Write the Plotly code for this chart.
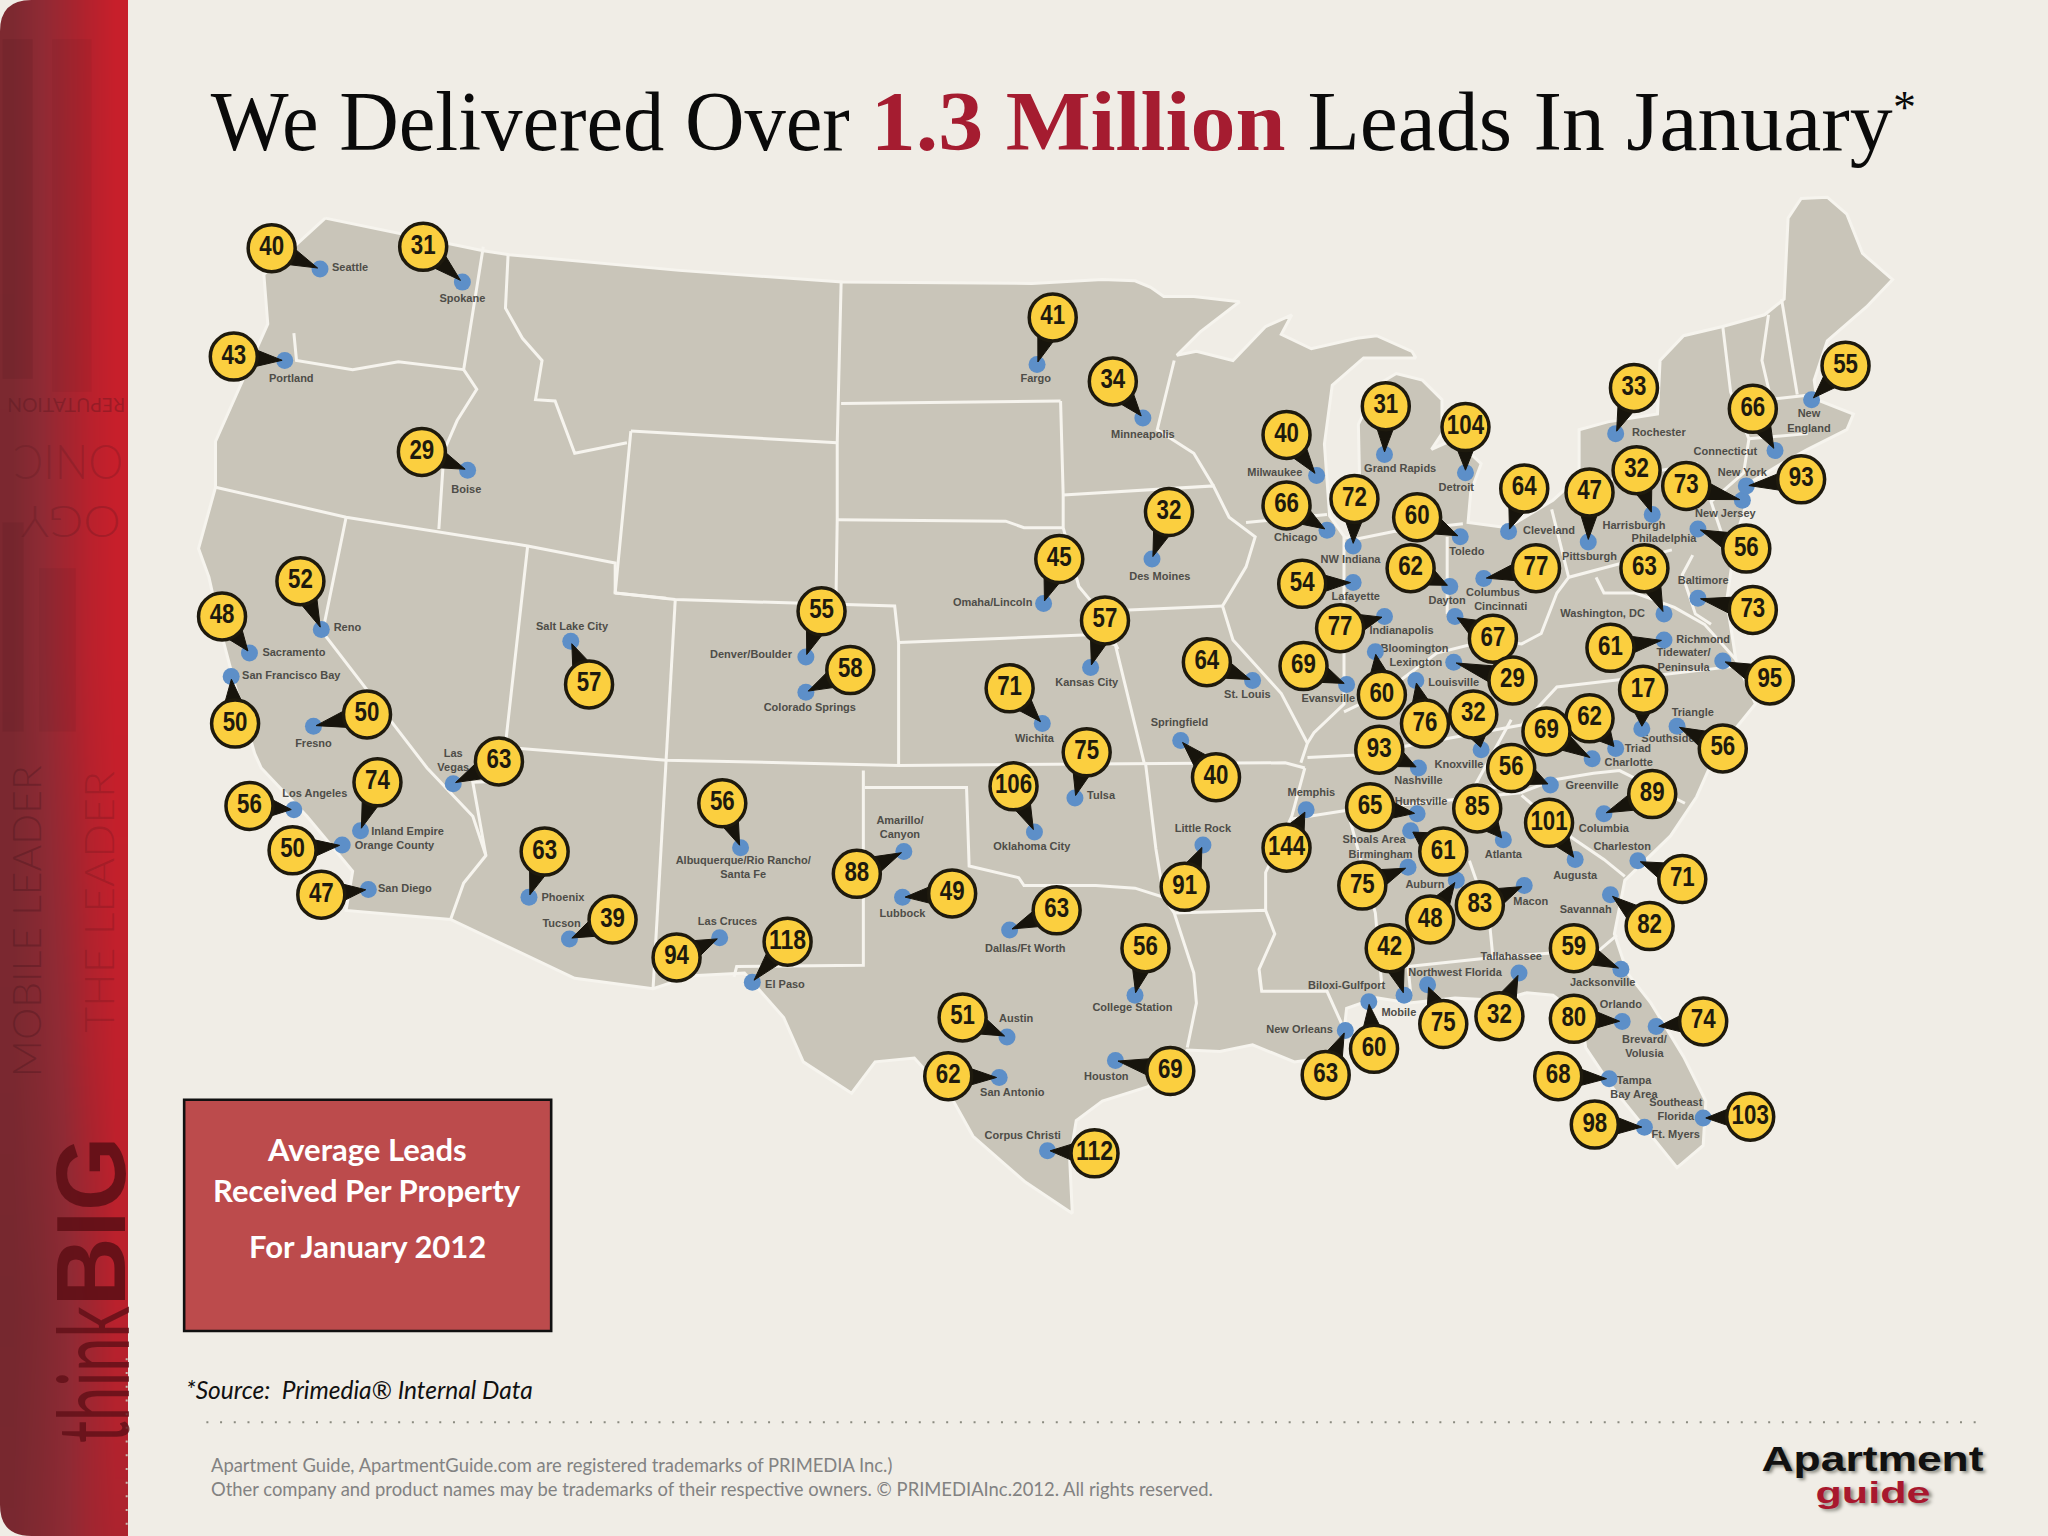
import math
import plotly.graph_objects as go

W, H = 1568, 1176
BG = "#f0ede6"
LAND = "#c9c5b9"
EDGE = "#f6f4ee"

# Lead counts, with bubble centre and city-pin positions
values = [40, 31, 43, 29, 52, 48, 50, 50, 57, 55, 58, 63, 56, 74, 50, 47, 63, 39, 56, 88, 49, 94, 118,
          41, 34, 32, 45, 57, 71, 64, 75, 106, 40, 91, 63, 56, 51, 62, 69, 112, 144,
          40, 66, 31, 104, 72, 60, 64, 47, 33, 32, 73, 66, 93, 55, 54, 62, 77, 63, 56, 73, 77, 67, 69, 61, 95,
          60, 29, 76, 32, 17, 62, 69, 56, 93, 56, 89, 65, 85, 101, 61, 75, 48, 83, 71, 82, 59, 42, 60, 63, 75, 32,
          80, 74, 68, 98, 103]
bubble_x = [208, 324, 179, 323, 230, 170, 180, 281, 451, 629, 651, 382, 191, 289, 224, 246, 417, 469, 553, 656, 729, 518, 603,
            806, 852, 895, 811, 846, 773, 924, 832, 776, 931, 907, 809, 877, 737, 726, 896, 838, 985,
            985, 985, 1061, 1122, 1037, 1085, 1167, 1217, 1251, 1253, 1291, 1342, 1379, 1413, 997, 1080, 1176, 1259, 1337, 1342, 1026, 1143, 998, 1233, 1355,
            1058, 1158, 1091, 1128, 1258, 1217, 1184, 1157, 1056, 1319, 1265, 1049, 1131, 1186, 1105, 1043, 1095, 1133, 1288, 1263, 1205, 1064, 1052, 1015, 1105, 1148,
            1205, 1304, 1193, 1221, 1340]
bubble_y = [190, 189, 273, 346, 445, 472, 554, 547, 524, 468, 513, 583, 617, 599, 651, 685, 652, 704, 615, 669, 684, 733, 721,
            243, 292, 392, 428, 475, 527, 507, 576, 602, 595, 679, 697, 726, 779, 824, 820, 883, 649,
            333, 387, 311, 327, 382, 396, 374, 377, 297, 360, 372, 313, 367, 280, 447, 435, 435, 435, 420, 467, 481, 489, 510, 496, 521,
            532, 521, 554, 547, 528, 550, 560, 588, 574, 573, 608, 618, 619, 630, 652, 678, 704, 693, 673, 709, 726, 726, 803, 823, 784, 778,
            780, 782, 824, 861, 855]
pin_x = [245, 354, 218, 358, 246, 191, 177, 240, 437, 617, 617, 347, 225, 276, 262, 282, 405, 436, 567, 692, 691, 551, 576,
         794, 875, 882, 799, 835, 798, 959, 823, 792, 904, 921, 773, 869, 771, 765, 854, 802, 1000,
         1008, 1016, 1060, 1122, 1036, 1118, 1155, 1216, 1237, 1265, 1334, 1359, 1337, 1387, 1036, 1110, 1136, 1274, 1300, 1300, 1060, 1114, 1031, 1274, 1319,
         1053, 1113, 1084, 1134, 1257, 1237, 1219, 1187, 1086, 1284, 1228, 1085, 1151, 1206, 1080, 1078, 1115, 1167, 1254, 1233, 1241, 1075, 1048, 1030, 1093, 1163,
         1242, 1268, 1232, 1259, 1304]
pin_y = [206, 216, 276, 360, 482, 500, 518, 556, 491, 503, 530, 600, 620, 636, 647, 681, 687, 719, 649, 652, 687, 718, 752,
         279, 320, 428, 462, 511, 554, 521, 611, 637, 567, 647, 712, 762, 794, 825, 812, 881, 620,
         364, 406, 348, 362, 418, 411, 407, 415, 332, 394, 383, 345, 372, 306, 446, 449, 443, 470, 405, 458, 472, 472, 524, 490, 506,
         499, 507, 521, 574, 558, 573, 581, 601, 588, 556, 623, 623, 643, 658, 636, 664, 674, 678, 659, 685, 742, 762, 767, 789, 754, 745,
         782, 786, 826, 863, 856]

# City labels
label_text = ["Seattle", "Spokane", "Portland", "Boise", "Reno", "Sacramento", "San Francisco Bay", "Fresno", "Salt Lake City",
              "Denver/Boulder", "Colorado Springs", "Las<br>Vegas", "Los Angeles", "Inland Empire", "Orange County", "San Diego",
              "Phoenix", "Tucson", "Albuquerque/Rio Rancho/<br>Santa Fe", "Amarillo/<br>Canyon", "Lubbock", "Las Cruces", "El Paso",
              "Fargo", "Minneapolis", "Des Moines", "Omaha/Lincoln", "Kansas City", "Wichita", "St. Louis", "Tulsa", "Oklahoma City",
              "Springfield", "Little Rock", "Dallas/Ft Worth", "College Station", "Austin", "San Antonio", "Houston", "Corpus Christi", "Memphis",
              "Milwaukee", "Chicago", "Grand Rapids", "Detroit", "NW Indiana", "Toledo", "Cleveland", "Pittsburgh", "Rochester", "Harrisburgh",
              "Philadelphia", "New Jersey", "New York", "Connecticut", "New<br>England", "Lafayette", "Dayton", "Columbus", "Cincinnati",
              "Washington, DC", "Baltimore", "Indianapolis", "Bloomington", "Lexington", "Richmond", "Tidewater/<br>Peninsula", "Louisville",
              "Evansville", "Triangle", "Southside", "Triad", "Charlotte", "Knoxville", "Nashville", "Greenville", "Columbia", "Huntsville",
              "Atlanta", "Shoals Area", "Birmingham", "Auburn", "Macon", "Charleston", "Augusta", "Savannah", "Jacksonville", "Tallahassee",
              "Northwest Florida", "Mobile", "Biloxi-Gulfport", "New Orleans", "Orlando", "Brevard/<br>Volusia", "Tampa<br>Bay Area",
              "Ft. Myers", "Southeast<br>Florida"]
label_x = [268, 354, 223, 357, 266, 225, 223, 240, 438, 575, 620, 347, 241, 312, 302, 310, 431, 430, 569, 689, 691, 557, 601,
           793, 875, 888, 760, 832, 792, 955, 843, 790, 903, 921, 785, 867, 778, 775, 847, 783, 1004,
           976, 992, 1072, 1115, 1034, 1123, 1186, 1217, 1270, 1251, 1274, 1321, 1334, 1321, 1385, 1038, 1108, 1143, 1149,
           1227, 1304, 1073, 1083, 1084, 1304, 1289, 1113, 1017, 1296, 1277, 1254, 1247, 1117, 1086, 1219, 1228, 1088,
           1151, 1052, 1057, 1091, 1172, 1242, 1206, 1214, 1227, 1157, 1114, 1071, 1031, 995, 1241, 1259, 1251, 1283, 1283]
label_y = [205, 229, 290, 375, 481, 500, 518, 570, 480, 502, 542, 583, 608, 637, 648, 681, 688, 708, 665, 634, 700, 706, 754,
           290, 333, 442, 462, 523, 566, 532, 610, 649, 554, 635, 727, 772, 780, 837, 825, 870, 607,
           362, 412, 359, 374, 429, 423, 407, 427, 332, 403, 413, 394, 362, 346, 323, 457, 460, 454, 465,
           470, 445, 483, 497, 508, 490, 506, 523, 535, 546, 566, 574, 584, 586, 598, 602, 635, 614,
           655, 643, 655, 678, 691, 649, 671, 697, 753, 733, 745, 776, 755, 789, 770, 802, 833, 869, 850]

# Lower-48 silhouette
outline_x = [249, 370, 390, 520, 645, 790, 844, 869, 881, 891, 914, 949, 919, 901, 916, 944, 969, 989, 981, 1004, 1039, 1054, 1081, 1084,
             1044, 1020, 1014, 1018, 1030, 1038, 1041, 1040, 1054, 1069, 1089, 1104, 1104, 1096, 1114, 1134, 1126, 1124, 1154, 1189, 1199,
             1209, 1209, 1231, 1269, 1271, 1289, 1319, 1351, 1366, 1369, 1379, 1399, 1414, 1426, 1449, 1429, 1399, 1389, 1391, 1419, 1414,
             1384, 1364, 1339, 1336, 1329, 1322, 1329, 1344, 1314, 1299, 1279, 1244, 1236, 1246, 1264, 1289, 1306, 1304, 1284, 1264, 1234,
             1214, 1211, 1189, 1169, 1149, 1114, 1079, 1054, 1031, 1029, 1019, 991, 959, 934, 909, 879, 844, 824, 819, 821, 785, 745, 730,
             700, 670, 652, 615, 600, 570, 530, 500, 440, 345, 265, 270, 235, 200, 195, 180, 170, 160, 152, 165, 165, 205, 202]
outline_y = [167, 192, 195, 207, 216, 217, 214, 215, 220, 227, 227, 231, 254, 272, 269, 276, 250, 241, 256, 267, 259, 257, 269, 274,
             274, 295, 340, 395, 412, 410, 370, 325, 295, 286, 291, 306, 332, 344, 336, 355, 377, 400, 404, 383, 374,
             362, 329, 323, 317, 276, 257, 250, 241, 229, 167, 152, 151, 164, 194, 214, 235, 261, 291, 306, 317, 329,
             344, 355, 370, 389, 411, 460, 505, 539, 576, 610, 640, 674, 715, 745, 768, 809, 843, 877, 894, 869, 832,
             802, 779, 762, 760, 766, 764, 768, 764, 772, 790, 809, 813, 800, 805, 804, 832, 843, 858, 888, 929, 905, 870, 843,
             810, 813, 837, 813, 779, 745, 747, 757, 749, 704, 697, 667, 625, 588, 577, 525, 487, 442, 420, 373, 338, 248, 210]

# State lines
state_lines = [
    [(225, 255), (227, 276), (270, 283), (305, 277), (355, 283)],
    [(370, 189), (355, 283), (365, 298), (350, 322), (340, 345), (336, 405)],
    [(389, 195), (387, 236), (400, 259), (415, 276), (410, 306), (425, 307), (440, 347), (480, 339)],
    [(483, 330), (471, 454), (510, 458)],
    [(483, 330), (641, 339)],
    [(644, 216), (641, 339), (641, 398), (640, 463)],
    [(644, 309), (812, 307)],
    [(641, 398), (770, 399), (784, 404), (814, 404)],
    [(471, 454), (517, 459), (685, 464), (688, 492), (688, 586)],
    [(688, 492), (834, 486), (854, 494), (876, 584)],
    [(517, 459), (510, 582), (500, 757)],
    [(385, 572), (510, 582), (688, 586), (984, 584), (999, 588)],
    [(404, 418), (387, 570), (388, 598), (362, 599), (372, 655), (355, 676), (345, 704)],
    [(265, 396), (247, 484), (327, 588), (362, 625), (372, 655)],
    [(165, 373), (265, 396), (404, 418), (471, 431), (471, 454)],
    [(661, 590), (661, 739), (564, 740), (562, 748)],
    [(662, 603), (740, 603), (742, 663), (780, 672), (784, 678), (839, 678), (869, 680), (891, 687), (899, 699), (914, 745), (916, 768), (909, 802)],
    [(877, 584), (885, 650), (891, 687)],
    [(899, 699), (969, 697), (976, 715), (964, 742), (966, 759), (1016, 759), (1030, 790)],
    [(999, 588), (989, 625), (969, 668), (969, 697)],
    [(1001, 580), (1039, 578), (1165, 555)],
    [(989, 627), (1028, 621), (1164, 607)],
    [(814, 379), (929, 372), (941, 396), (961, 411), (954, 434), (936, 464), (944, 490), (981, 531), (1001, 569), (996, 584)],
    [(812, 307), (814, 379), (814, 404), (826, 449), (841, 467), (856, 497)],
    [(864, 467), (936, 464)],
    [(929, 372), (914, 347), (886, 329), (899, 276)],
    [(954, 400), (1016, 394)],
    [(1029, 411), (1029, 539), (1006, 561), (1001, 569)],
    [(1029, 545), (1060, 530), (1100, 500), (1140, 490), (1165, 493), (1180, 485), (1192, 454), (1201, 442)],
    [(1108, 411), (1108, 470)],
    [(1037, 413), (1067, 407), (1120, 401)],
    [(1188, 390), (1201, 442), (1280, 421)],
    [(1205, 372), (1300, 355)],
    [(1319, 250), (1325, 300), (1339, 336), (1335, 362), (1310, 384), (1322, 420)],
    [(1354, 241), (1349, 276), (1356, 306)],
    [(1364, 229), (1376, 302)],
    [(1354, 306), (1389, 302)],
    [(1339, 336), (1384, 332)],
    [(1222, 442), (1228, 454), (1252, 454), (1282, 465), (1305, 478), (1329, 505)],
    [(1296, 425), (1288, 440), (1298, 470), (1310, 478)],
    [(1165, 555), (1192, 526), (1329, 510)],
    [(1157, 551), (1130, 600), (1164, 607)],
    [(1164, 607), (1190, 597), (1220, 592), (1240, 590), (1290, 615)],
    [(1165, 609), (1203, 641), (1228, 658), (1244, 671)],
    [(1078, 740), (1143, 733), (1225, 727), (1238, 716)],
    [(1125, 659), (1140, 702), (1143, 733)],
    [(1032, 622), (1053, 699), (1058, 755)],
    [(1078, 740), (1080, 760)],
]

# Text content
title_parts = ["We Delivered Over", "1.3 Million", "Leads In January"]
box_lines = ["Average Leads", "Received Per Property", "For January 2012"]
box_line_y = [880, 911, 954]
source_text = "*Source:  Primedia® Internal Data"
footer_lines = ["Apartment Guide, ApartmentGuide.com are registered trademarks of PRIMEDIA Inc.)",
                "Other company and product names may be trademarks of their respective owners. © PRIMEDIAInc.2012. All rights reserved."]
footer_y = [1122, 1140]

# Side band gradient levels
band_x = [9.8, 29.4, 49, 68.6, 88.2]
band_y = [0, 500, 800, 1000, 1176]
band_z = [[0.10, 0.32, 0.55, 0.80, 1.00],
          [0.08, 0.30, 0.58, 0.85, 1.00],
          [0.06, 0.20, 0.40, 0.72, 0.92],
          [0.00, 0.10, 0.28, 0.55, 0.85],
          [0.04, 0.16, 0.32, 0.55, 0.70]]

fig = go.Figure()

fig.add_trace(go.Heatmap(x=band_x, y=band_y, z=band_z, zsmooth="best", showscale=False, hoverinfo="skip",
                         zmin=0, zmax=1,
                         colorscale=[[0, "#76282f"], [0.35, "#8f2a34"], [0.7, "#ac232e"], [1, "#c71f2b"]]))

fig.add_trace(go.Scatter(x=outline_x + outline_x[:1], y=outline_y + outline_y[:1], mode="lines", fill="toself",
                         fillcolor=LAND, line=dict(color=EDGE, width=3), hoverinfo="skip", showlegend=False))

lx, ly = [], []
for seg in state_lines:
    lx += [p[0] for p in seg] + [None]
    ly += [p[1] for p in seg] + [None]
fig.add_trace(go.Scatter(x=lx, y=ly, mode="lines", line=dict(color=EDGE, width=3), hoverinfo="skip", showlegend=False))

fig.add_trace(go.Scatter(x=label_x, y=label_y, mode="text", text=label_text, textposition="middle center",
                         textfont=dict(family="Liberation Sans", size=11, color="#4e4d48", weight=700),
                         hoverinfo="skip", showlegend=False))

R = 19.5
wx, wy = [], []
for bx, by, px, py in zip(bubble_x, bubble_y, pin_x, pin_y):
    d = math.hypot(px - bx, py - by) or 1
    ux, uy = (px - bx) / d, (py - by) / d
    nx, ny = -uy, ux
    cx, cy = bx + ux * R * 0.85, by + uy * R * 0.85
    wx += [cx + nx * 6.5, cx - nx * 6.5, px - ux * 2, cx + nx * 6.5, None]
    wy += [cy + ny * 6.5, cy - ny * 6.5, py - uy * 2, cy + ny * 6.5, None]
fig.add_trace(go.Scatter(x=pin_x, y=pin_y, mode="markers",
                         marker=dict(size=17, color="#5d8fc8", line=dict(width=0)), hoverinfo="skip", showlegend=False))
fig.add_trace(go.Scatter(x=wx, y=wy, mode="lines", fill="toself", fillcolor="#17140c",
                         line=dict(color="#17140c", width=1), hoverinfo="skip", showlegend=False))
fig.add_trace(go.Scatter(x=bubble_x, y=bubble_y, mode="markers+text", text=[str(v) for v in values],
                         textposition="middle center",
                         marker=dict(size=47, color="#fbcf3f", line=dict(color="#1e1a0e", width=3.5)),
                         textfont=dict(family="Liberation Sans", size=28, color="#1e1a0e", weight=700),
                         hoverinfo="skip", showlegend=False))

shapes = [
    dict(type="path", path="M 0 0 L 24 0 Q 0 0 0 24 Z", fillcolor=BG, line=dict(width=0), layer="above"),
    dict(type="path", path="M 0 1176 L 24 1176 Q 0 1176 0 1152 Z", fillcolor=BG, line=dict(width=0), layer="above"),
    dict(type="rect", x0=2, x1=25, y0=30, y1=290, fillcolor="rgba(80,20,30,0.14)", line=dict(width=0), layer="above"),
    dict(type="rect", x0=40, x1=70, y0=30, y1=300, fillcolor="rgba(80,20,30,0.08)", line=dict(width=0), layer="above"),
    dict(type="rect", x0=2, x1=18, y0=400, y1=560, fillcolor="rgba(80,20,30,0.14)", line=dict(width=0), layer="above"),
    dict(type="rect", x0=30, x1=58, y0=435, y1=560, fillcolor="rgba(80,20,30,0.09)", line=dict(width=0), layer="above"),
    dict(type="rect", x0=141, x1=422, y0=842, y1=1019, fillcolor="#bc4b4c", line=dict(color="#111111", width=2.6)),
    dict(type="line", x0=158, x1=1520, y0=1089, y1=1089, line=dict(color="#8b8b80", width=2, dash="2px,11.7px")),
    dict(type="line", x0=97, x1=97, y0=1040, y1=1176, line=dict(color="#c9b9b0", width=2, dash="2px,11.7px")),
]

ann = []
ann.append(dict(x=406.5, y=93, text=title_parts[0], showarrow=False, xanchor="center", yanchor="middle",
                font=dict(family="Liberation Serif", size=85.5, color="#0a0a0a")))
ann.append(dict(x=825, y=93, text=title_parts[1], showarrow=False, xanchor="center", yanchor="middle",
                font=dict(family="Liberation Serif", size=85.5, color="#a51c30", weight=700)))
ann.append(dict(x=1225, y=93, text=title_parts[2], showarrow=False, xanchor="center", yanchor="middle",
                font=dict(family="Liberation Serif", size=85.5, color="#0a0a0a")))
ann.append(dict(x=1458, y=82, text="*", showarrow=False, xanchor="center", yanchor="middle",
                font=dict(family="Liberation Serif", size=46, color="#0a0a0a")))
for t, y, in zip(box_lines, box_line_y):
    ann.append(dict(x=281, y=y, text=t, showarrow=False, xanchor="center", yanchor="middle",
                    font=dict(family="Lato", size=31, color="#ffffff", weight=700)))
ann.append(dict(x=141, y=1064, text="<i>%s</i>" % source_text, showarrow=False, xanchor="left", yanchor="middle",
                font=dict(family="Lato", size=24.5, color="#111111")))
for t, y in zip(footer_lines, footer_y):
    ann.append(dict(x=160, y=y, text=t, showarrow=False, xanchor="left", yanchor="middle",
                    font=dict(family="Lato", size=18.4, color="#828282")))
ann.append(dict(x=1434, y=1117, text="Apartment", showarrow=False, xanchor="center", yanchor="middle",
                font=dict(family="Liberation Sans", size=35, color="#111111", weight=700, shadow="2px 2px 3px #8a8a80")))
ann.append(dict(x=1434, y=1143, text="guide", showarrow=False, xanchor="center", yanchor="middle",
                font=dict(family="Liberation Sans", size=30, color="#a8182e", weight=700, shadow="2px 2px 3px #8a8a80")))
# side band lettering
ann.append(dict(x=70, y=1052, text="think", showarrow=False, textangle=-90, xanchor="center", yanchor="middle",
                font=dict(family="Lato", size=98, color="rgba(95,15,22,0.8)", weight=400)))
ann.append(dict(x=70, y=935, text="BIG", showarrow=False, textangle=-90, xanchor="center", yanchor="middle",
                font=dict(family="Liberation Sans", size=98, color="rgba(95,15,22,0.9)", weight=700)))
ann.append(dict(x=20, y=705, text="MOBILE LEADER", showarrow=False, textangle=-90, xanchor="center", yanchor="middle",
                font=dict(family="Lato", size=40, color="rgba(70,20,28,0.35)", weight=300)))
ann.append(dict(x=75, y=690, text="THE LEADER", showarrow=False, textangle=-90, xanchor="center", yanchor="middle",
                font=dict(family="Lato", size=42, color="rgba(110,20,28,0.30)", weight=300)))
ann.append(dict(x=51, y=311, text="REPUTATION", showarrow=False, textangle=180, xanchor="center", yanchor="middle",
                font=dict(family="Lato", size=20, color="rgba(80,20,28,0.35)")))
ann.append(dict(x=52, y=355, text="ONIC", showarrow=False, textangle=180, xanchor="center", yanchor="middle",
                font=dict(family="Lato", size=48, color="rgba(80,20,28,0.22)", weight=300)))
ann.append(dict(x=54, y=400, text="OGY", showarrow=False, textangle=180, xanchor="center", yanchor="middle",
                font=dict(family="Lato", size=44, color="rgba(80,20,28,0.25)", weight=300)))

fig.update_layout(
    width=2048, height=1536, margin=dict(l=0, r=0, t=0, b=0),
    paper_bgcolor=BG, plot_bgcolor=BG, showlegend=False,
    xaxis=dict(range=[0, W], visible=False, fixedrange=True),
    yaxis=dict(range=[H, 0], visible=False, fixedrange=True),
    shapes=shapes, annotations=ann,
)

narrow_script = """
document.body.style.margin='0';document.documentElement.style.overflow='hidden';
function fitText(){
  var gd=document.getElementById('{plot_id}');
  var fit=function(el,w){el.setAttribute('textLength',w);el.setAttribute('lengthAdjust','spacingAndGlyphs');};
  gd.querySelectorAll('.textpoint text').forEach(function(t){
    var s=t.textContent;
    if(/^[0-9]+$/.test(s)){fit(t,s.length*12.4);}
  });
  var widths={'We Delivered Over':639,'1.3 Million':415,'Leads In January':585,
              'think':137,'BIG':170,'MOBILE LEADER':312,'THE LEADER':262,'REPUTATION':118,'ONIC':110,'OGY':100,'Apartment':222,'guide':115};
  gd.querySelectorAll('.annotation-text').forEach(function(t){
    var w=widths[t.textContent];
    if(w){fit(t,w);}
  });
}
fitText();setTimeout(fitText,100);
"""
fig.write_html("out.html", config={"displayModeBar": False}, post_script=narrow_script)
